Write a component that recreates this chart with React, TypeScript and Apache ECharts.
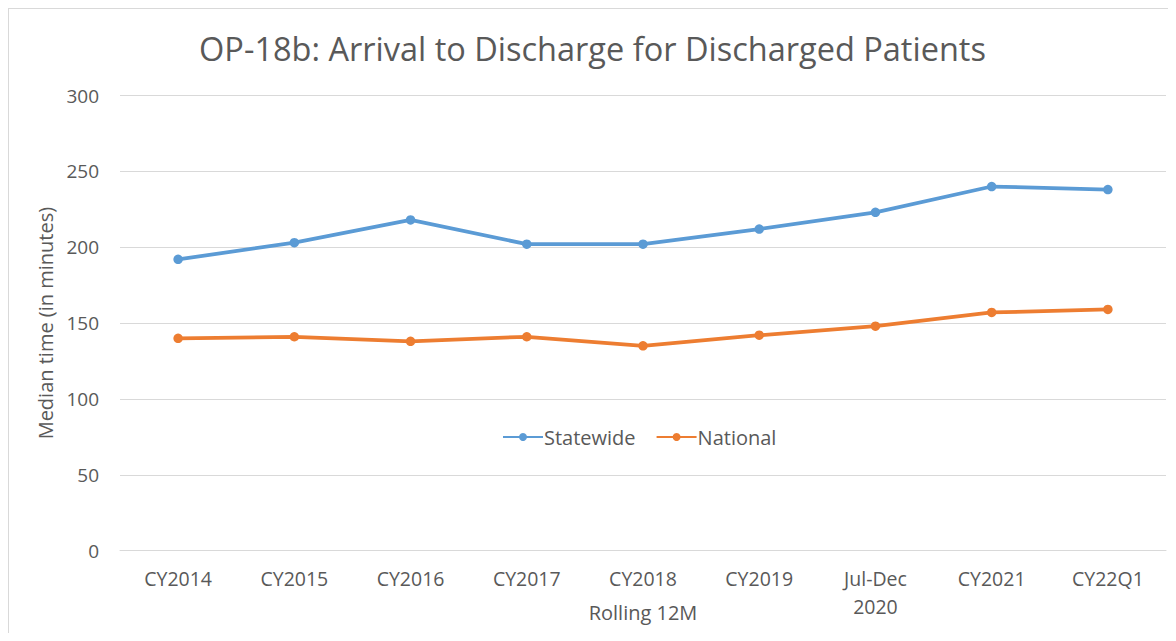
import React, { useEffect, useRef } from "react";
import * as echarts from "echarts";

const categories = ["CY2014", "CY2015", "CY2016", "CY2017", "CY2018", "CY2019", "Jul-Dec\n2020", "CY2021", "CY22Q1"];
const statewide = [192, 203, 218, 202, 202, 212, 223, 240, 238];
const national = [140, 141, 138, 141, 135, 142, 148, 157, 159];
const titleText = "OP-18b: Arrival to Discharge for Discharged Patients";
const yAxisName = "Median time (in minutes)";
const xAxisName = "Rolling 12M";

const FONT = "'Open Sans', 'Noto Sans', sans-serif";
const TEXT = "#595959";

export default function App() {
  const ref = useRef<HTMLDivElement>(null);
  useEffect(() => {
    if (!ref.current) return;
    const chart = echarts.init(ref.current, undefined, { renderer: "svg" });
    chart.setOption({
      animation: false,
      backgroundColor: "#ffffff",
      textStyle: { fontFamily: FONT },
      title: {
        text: titleText,
        left: "center",
        top: 18,
        padding: [5, 5, 5, 15],
        textStyle: { fontFamily: FONT, fontSize: 32.5, fontWeight: "normal", color: TEXT },
      },
      legend: {
        left: 488,
        top: 413,
        itemWidth: 40,
        itemHeight: 10,
        itemGap: 20,
        textStyle: { fontFamily: FONT, fontSize: 20, color: TEXT, padding: [0, 0, 0, -4] },
        data: ["Statewide", "National"],
      },
      grid: { left: 111, right: 10, top: 86.5, bottom: 82.3, containLabel: false, outerBoundsMode: "none" },
      xAxis: {
        type: "category",
        data: categories,
        boundaryGap: true,
        axisLine: { show: true, lineStyle: { color: "#d9d9d9", width: 1 } },
        axisTick: { show: false },
        axisLabel: { fontFamily: FONT, fontSize: 19.5, color: TEXT, margin: 14, lineHeight: 28 },
        name: xAxisName,
        nameLocation: "middle",
        nameGap: 52,
        nameMoveOverlap: false,
        nameTextStyle: { fontFamily: FONT, fontSize: 20, color: TEXT },
      },
      yAxis: {
        type: "value",
        min: 0,
        max: 300,
        interval: 50,
        axisLine: { show: false },
        axisTick: { show: false },
        splitLine: { lineStyle: { color: "#d9d9d9", width: 1 } },
        axisLabel: { fontFamily: FONT, fontSize: 19, color: TEXT, margin: 21 },
        name: yAxisName,
        nameLocation: "middle",
        nameGap: 65,
        nameMoveOverlap: false,
        nameTextStyle: { fontFamily: FONT, fontSize: 20, color: TEXT },
      },
      series: [
        {
          name: "Statewide",
          type: "line",
          data: statewide,
          symbol: "circle",
          symbolSize: 9.5,
          itemStyle: { color: "#5B9BD5" },
          lineStyle: { color: "#5B9BD5", width: 3.75 },
        },
        {
          name: "National",
          type: "line",
          data: national,
          symbol: "circle",
          symbolSize: 9.5,
          itemStyle: { color: "#ED7D31" },
          lineStyle: { color: "#ED7D31", width: 3.75 },
        },
      ],
    });
    return () => chart.dispose();
  }, []);
  return (
    <div style={{ width: 1168, height: 625, borderLeft: "1px solid #d9d9d9", borderTop: "1px solid #d9d9d9", boxSizing: "border-box", overflow: "hidden" }}>
      <div ref={ref} style={{ width: 1167, height: 624 }} />
    </div>
  );
}
